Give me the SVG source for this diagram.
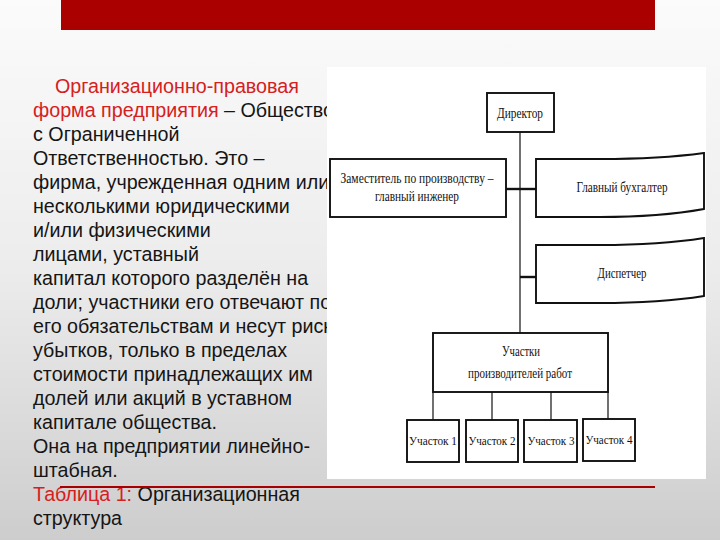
<svg xmlns="http://www.w3.org/2000/svg" width="720" height="540" viewBox="0 0 720 540">
<defs>
<linearGradient id="bg" x1="0" y1="0" x2="0" y2="1">
<stop offset="0" stop-color="#fbfbfb"/>
<stop offset="0.5" stop-color="#ececec"/>
<stop offset="1" stop-color="#cdcdcd"/>
</linearGradient>
</defs>
<style>
.t{font-family:"Liberation Sans",Arial,sans-serif;font-size:19.7px;fill:#151515}
.r{fill:#d62020}
.box{fill:#fff;stroke:#111;stroke-width:1.9}
.lbl{font-family:"Liberation Serif","Times New Roman",serif;font-size:15.5px;fill:#111;text-anchor:middle}
.sm{font-size:13px}
.ln{stroke:#111;stroke-width:1.2;fill:none}
.lnb{stroke:#111;stroke-width:2.4;fill:none}
</style>
<rect width="720" height="540" fill="url(#bg)"/>
<rect x="61" y="0" width="594" height="30" fill="#ab0000"/>
<g id="text">
<text class="t r" x="55" y="93">Организационно-правовая</text>
<text class="t" x="33" y="117"><tspan class="r">форма предприятия</tspan> – Общество</text>
<text class="t" x="33" y="141">с Ограниченной</text>
<text class="t" x="33" y="165">Ответственностью. Это –</text>
<text class="t" x="33" y="189">фирма, учрежденная одним или</text>
<text class="t" x="33" y="213">несколькими юридическими</text>
<text class="t" x="33" y="237">и/или физическими</text>
<text class="t" x="33" y="261">лицами, уставный</text>
<text class="t" x="33" y="285">капитал которого разделён на</text>
<text class="t" x="33" y="309">доли; участники его отвечают по</text>
<text class="t" x="33" y="333">его обязательствам и несут риск</text>
<text class="t" x="33" y="357">убытков, только в пределах</text>
<text class="t" x="33" y="381">стоимости принадлежащих им</text>
<text class="t" x="33" y="405">долей или акций в уставном</text>
<text class="t" x="33" y="429">капитале общества.</text>
<text class="t" x="33" y="453">Она на предприятии линейно-</text>
<text class="t" x="33" y="477">штабная.</text>
<text class="t" x="33" y="501"><tspan class="r">Таблица 1:</tspan> Организационная</text>
<text class="t" x="33" y="525">структура</text>
</g>
<rect x="327" y="67" width="379" height="412" fill="#fff"/>
<line x1="60" y1="487" x2="655" y2="487" stroke="#a80000" stroke-width="2"/>
<g id="connectors">
<line class="ln" x1="520" y1="132" x2="520" y2="333"/>
<line class="lnb" x1="506" y1="189" x2="536" y2="189"/>
<line class="lnb" x1="520" y1="277" x2="536" y2="277"/>
<line class="ln" x1="433" y1="392" x2="433" y2="420"/>
<line class="ln" x1="492" y1="392" x2="492" y2="420"/>
<line class="ln" x1="551" y1="392" x2="551" y2="420"/>
<line class="ln" x1="608" y1="392" x2="608" y2="420"/>
</g>
<g id="director">
<rect class="box" x="487" y="93" width="67" height="39"/>
<text class="lbl" x="520" y="118" textLength="46" lengthAdjust="spacingAndGlyphs">Директор</text>
</g>
<g id="deputy">
<rect class="box" x="330" y="159" width="176" height="58"/>
<text class="lbl" x="417" y="183" textLength="153" lengthAdjust="spacingAndGlyphs">Заместитель по производству –</text>
<text class="lbl" x="417" y="201" textLength="84" lengthAdjust="spacingAndGlyphs">главный инженер</text>
</g>
<g id="accountant">
<path class="box" d="M536,159 L600,159 Q660,159 704,153 L704,209 Q660,217 600,217 L536,217 Z"/>
<text class="lbl" x="622" y="192" textLength="91" lengthAdjust="spacingAndGlyphs">Главный бухгалтер</text>
</g>
<g id="dispatcher">
<path class="box" d="M536,245 L600,245 Q660,245 704,238 L704,296 Q660,303 600,303 L536,303 Z"/>
<text class="lbl" x="622" y="278" textLength="49" lengthAdjust="spacingAndGlyphs">Диспетчер</text>
</g>
<g id="sites">
<rect class="box" x="433" y="333" width="175" height="59"/>
<text class="lbl" x="521" y="356" textLength="38" lengthAdjust="spacingAndGlyphs">Участки</text>
<text class="lbl" x="520" y="378" textLength="104" lengthAdjust="spacingAndGlyphs">производителей работ</text>
</g>
<g id="site1">
<rect class="box" x="407" y="420" width="52" height="42"/>
<text class="lbl sm" x="433" y="445" textLength="48" lengthAdjust="spacingAndGlyphs">Участок 1</text>
</g>
<g id="site2">
<rect class="box" x="466" y="420" width="52" height="42"/>
<text class="lbl sm" x="492" y="445" textLength="47" lengthAdjust="spacingAndGlyphs">Участок 2</text>
</g>
<g id="site3">
<rect class="box" x="524" y="420" width="53" height="42"/>
<text class="lbl sm" x="551" y="445" textLength="47" lengthAdjust="spacingAndGlyphs">Участок 3</text>
</g>
<g id="site4">
<rect class="box" x="583" y="419" width="52" height="42"/>
<text class="lbl sm" x="609" y="444" textLength="47" lengthAdjust="spacingAndGlyphs">Участок 4</text>
</g>
</svg>
